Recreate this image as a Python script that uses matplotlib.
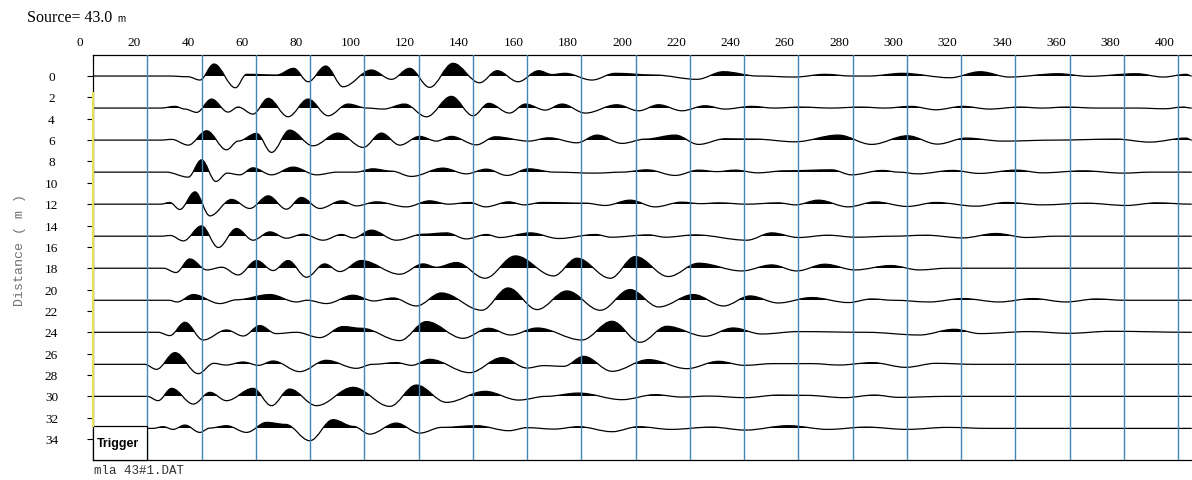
import matplotlib
matplotlib.use("Agg")
import matplotlib.pyplot as plt
import matplotlib.transforms as mtransforms
from matplotlib.path import Path
from matplotlib.patches import PathPatch, Rectangle

# geophone offsets along the line (m), one wiggle trace each
distances = [0, 3, 6, 9, 12, 15, 18, 21, 24, 27, 30, 33]

# extrema of each trace: time (ms), amplitude (screen px, + = up)
t_01 = [5, 33, 40, 44.4, 49.6, 57.5, 61.6, 72.6, 79.0, 84.3, 90.8, 97.2, 107.6, 115, 121.7, 129.1, 137.7, 147.5,
        154, 161.7, 169.3, 174.2, 179, 188.9, 197.5, 212, 227.6, 237.4, 250, 263.8, 274.8, 284.6, 291, 303.4,
        321, 332, 342.8, 360.7, 372, 389.6, 399.5, 408, 410]
a_01 = [0, 0, -0.7, -4, 12, -11.7, 1.7, 1, 7.7, -5.7, 10, -10.7, 6, -3.3, 7.7, -11.3, 12.7, -6.7,
        5.3, -5.7, 5.3, 1.5, 2.7, -4, 2.7, 1, -3.3, 4.3, 0, -1, 1.7, 0, 0, 2.7,
        -1.7, 4.3, -1, 2.3, -0.3, 2.3, -1, 1.7, 0]
t_02 = [5, 30, 35.2, 38.9, 43.2, 48.7, 54.8, 58.5, 64, 69.6, 76.9, 84.3, 91.7, 99, 106, 112, 119.9, 127.9,
        137.1, 145.1, 150.9, 158.5, 164.4, 171.7, 177.9, 186.5, 198.1, 206.1, 213.5, 222.1, 230.6, 238,
        247.8, 256, 266, 277, 288, 297, 306.5, 315.7, 325.6, 335.4, 346.5, 355, 363.7, 375, 390, 400, 406.8, 410]
a_02 = [0, 0, 1.7, -1, -4.3, 9, -4, 1, -6, 9.7, -8.7, 9, -7.7, 4, 0, -1, 4, -8.7,
        11.7, -7.7, 4.7, -5, 4, -2, 4, -5, 3.3, -2.7, 3.3, -2.7, 2.3, -1,
        1.7, 0, 1, 0, 1, 0, 1.7, -1.7, 1.7, -1, 1, 0, 1, 0, 0, -0.7, 1, 0]
t_03 = [5, 30, 34, 40.1, 46.9, 54.2, 58.5, 65.3, 70.8, 77.5, 86.1, 95.3, 104.6, 111.3, 118.1, 125.4, 131.6,
        137.1, 146.3, 153.3, 165.6, 173, 183.4, 190.8, 200, 208.6, 219.6, 228.2, 238, 249, 263.8, 279.7,
        292, 305.2, 316.3, 326.8, 340.3, 360, 382, 394.5, 408, 410]
a_03 = [0, 0, 0.7, -5, 9.3, -9.7, -1, 6.7, -12.3, 10, -5.7, 7, -7.3, 7, -5, 3.7, -1,
        3.7, -4.7, 3.3, -1, 2.3, -2.7, 5, -3.3, 1, 5, -4.3, 1.3, 1, -1.7, 5,
        -4.3, 4.3, -4, 2, -1, 0, 1, -2, 2, 0]
t_04 = [5, 32, 40.1, 45, 50.3, 54.5, 59.1, 64, 70.8, 78.8, 87.4, 95, 102, 108.2, 115, 122.4, 134, 142.6,
        150, 157.6, 165.6, 175, 190, 200, 209.2, 219.6, 228.2, 235, 241.7, 250, 260, 277.3, 284.6, 296,
        302, 309, 321.9, 331.7, 345.3, 355, 370, 384.7, 395, 410]
a_04 = [0, 0, -5, 12.3, -9.3, -1, -2.7, 4.3, -2.7, 5, -2.7, 0, 0, 3.3, 1, -4.3, 4, -1.7,
        3, -3.3, 3.3, 0, -1, 0, 2.3, -3.3, 2, 0.5, 2, -0.7, 1.3, 2.3, -2.7, 1.7,
        0, -1.7, 1.7, -1.3, 2, -0.7, 1.3, -1, 0, 0]
t_05 = [5, 30, 33.3, 37, 42.6, 48.1, 56.1, 62.8, 69.6, 76.3, 81.8, 88.6, 96.6, 102.1, 109.5, 120.5, 129.1,
        136, 143.8, 149.7, 158.3, 164, 170.5, 186.5, 193.8, 203, 212.2, 222, 229, 235.6, 246, 257.6, 264,
        272.4, 283.4, 293.3, 305.2, 315.7, 330.5, 341.6, 355, 371, 385.9, 397, 410]
a_05 = [0, 0, 1.7, -5.3, 12.3, -11.7, 4.7, -4.3, 8.3, -5, 6.7, -4.3, 3.3, -1.7, 2.3, -2.7, 3.3,
        0, 1.7, -2.7, 2.3, -0.7, 1.7, 1, -1.3, 4, -2.7, 2, 0.5, 1.3, 0, 1.3, -0.7,
        4, -2.7, 2.3, -2.3, 1.7, -2, 1.7, -0.7, 1, -1.3, 1.3, 0]
t_06 = [5, 30, 33.5, 38.3, 45, 51.2, 57.9, 64, 70.2, 76.3, 82.5, 89.8, 96.6, 101, 107.6, 116.8, 126.7,
        135.3, 142.6, 150, 155, 166.2, 176.7, 190.2, 196, 209.8, 216, 227, 246, 255.2, 265, 276, 285.9,
        300, 312, 325.6, 337.9, 349, 360, 410]
a_06 = [0, 0, 0.7, -4.7, 10.3, -11.3, 7.7, -4, 4.3, -2, 2, -4, 1.7, -1.7, 6, -4, 2,
        3.3, -2.7, 1.7, -1.3, 3.3, -2.3, 1.7, -1, 1.3, -1, 1.3, -4, 3.3, -1.3, 1, -1,
        0, 1, -1.7, 2.7, -1.3, 0, 0]
t_07 = [5, 31, 35.6, 40.7, 47, 52.5, 58.5, 65.3, 71.4, 76.9, 83.7, 90.4, 96, 103.9, 118.1, 126.7, 131.6,
        139, 149.5, 160.7, 174.8, 183.4, 195.7, 204.9, 217.1, 228.2, 244.1, 255.2, 264.4, 274.8, 285.9,
        299, 309.6, 320, 410]
a_07 = [0, 0, -4.3, 9.3, -1.7, 1, -6.7, 7.7, -2.3, 7.7, -9, 4.3, -3.3, 7.7, -6, 4.3, 1,
        5.7, -10, 12.3, -7.7, 10, -10, 11.7, -8.3, 5, -2.7, 3.3, -2.7, 4, -1.7,
        2.7, -1.7, 0, 0]
t_08 = [5, 33, 36, 42, 51.8, 58, 70.2, 80, 84, 91, 100.9, 108.5, 115.6, 124.2, 133.4, 148.3, 158, 168.7,
        179.7, 192, 203, 213.5, 226.3, 237.4, 247.2, 257.6, 269.9, 283.4, 292, 300, 313.3, 325.6, 339,
        351.4, 363.7, 374.8, 385, 410]
a_08 = [0, 0, -1.7, 5.7, -3.3, 0.5, 5.7, -1.7, 0, -3.3, 5, -0.7, 2.3, -5.7, 7.3, -10, 12.3, -9.3,
        9.3, -10, 10.7, -6.7, 5.7, -5.7, 4.3, -2.7, 2.7, -2.3, 1.3, 0, -1.7, 1.7, -1.7,
        1.7, -1.7, 1.3, 0, 0]
t_09 = [5, 29, 33.3, 38.9, 45.6, 54.2, 60.4, 66.5, 72.5, 80, 88.6, 97.2, 104, 118.1, 127.9, 141.4, 150.9,
        158.9, 168.7, 185.2, 196.3, 206.7, 216.5, 230.6, 241, 251.5, 265, 290, 309.6, 322.5, 332, 350,
        365, 380, 410]
a_09 = [0, 0, -3.3, 10, -7.7, 2.3, -3.7, 6.7, -1.3, 0, -5.3, 5.7, 4, -8.3, 10.7, -6, 4,
        -2.7, 4.3, -7.7, 11, -10, 6, -4, 4.3, -1.7, 0.7, 0, -2.7, 3, -1.3, 0.7,
        -1, 1, 0]
t_10 = [5, 24, 28.4, 35.2, 43.8, 49.5, 54, 60.4, 66, 71.4, 81.2, 91, 102.1, 108, 116.8, 122.5, 129.1,
        143.8, 155.8, 165, 171, 178.5, 185.9, 196.3, 209.8, 223.9, 235.6, 245, 256, 270, 280, 292.3,
        304.6, 315.7, 330, 410]
a_10 = [0, 0, -5, 11.7, -9.3, 1, -0.7, 2.3, -1, 3.3, -7.3, 4, -4, 0, 1.7, -1, 5,
        -8.3, 6.7, -3.7, -1.3, -2, 8, -7, 4.7, -4.3, 3, -1, 0.7, 0.7, -0.7, 1.7,
        -3, 1, 0, 0]
t_11 = [5, 25, 29, 34, 42, 48.1, 54.2, 64, 70.8, 77.5, 87.4, 100.9, 114.4, 124.2, 135.3, 149.5, 161.9,
        172, 184, 200, 212.2, 222, 232, 245.4, 257.6, 268, 282, 293, 302, 320, 410]
a_11 = [0, 0, -4.3, 8, -7.7, 4, -4.3, 8, -9.3, 7.3, -9.3, 9, -10, 11.3, -6, 5, -3.7,
        0, 3.3, -3.3, 1.7, -0.7, 0.3, -1.3, 1.3, 1, -1.3, 1.3, -1, 0, 0]
t_12 = [5, 27, 30.9, 34.5, 38.9, 44.4, 48, 54.2, 61.6, 69, 76, 84.9, 93.5, 101, 107, 116.8, 125.4,
        133.5, 146.3, 158.3, 165, 175, 184, 196.3, 206.1, 218, 233, 245.4, 261.3, 276, 290, 305,
        320, 335, 410]
a_12 = [0, 0, 1.7, -1, 3.3, -4, 0.3, 2.7, -4, 6, 4, -12.3, 8.7, 2, -5.7, 5.3, -4.7,
        1, 2.7, -2.3, 0.7, -0.7, 1.7, -3.3, 1.7, -1, 1.3, -1.7, 2.7, -1, 1.3, -1,
        1, 0, 0]

trace_times = [t_01, t_02, t_03, t_04, t_05, t_06, t_07, t_08, t_09, t_10, t_11, t_12]
trace_amps = [a_01, a_02, a_03, a_04, a_05, a_06, a_07, a_08, a_09, a_10, a_11, a_12]

time_labels = list(range(0, 401, 20))
grid_times = list(range(25, 406, 20))
dist_labels = list(range(0, 35, 2))

T_MIN, T_MAX = 5.0, 410.1
D_TOP, D_BOT = -1.97, 35.96
GAIN = 1 / 10.68          # screen px of amplitude -> metres on the distance axis
GRID_COLOR = "#3f86b4"
SERIF = "Liberation Serif"
MONO = "Liberation Mono"


def wiggle_path(times, amps, base):
    # smooth path through the picked extrema, flat tangent at each one
    verts = [(times[0], base - amps[0] * GAIN)]
    codes = [Path.MOVETO]
    for i in range(1, len(times)):
        t0, t1 = times[i - 1], times[i]
        y0, y1 = base - amps[i - 1] * GAIN, base - amps[i] * GAIN
        dt = t1 - t0
        verts += [(t0 + 0.36 * dt, y0), (t1 - 0.36 * dt, y1), (t1, y1)]
        codes += [Path.CURVE4] * 3
    return verts, codes


fig = plt.figure(figsize=(11.92, 4.8), dpi=100)
ax = fig.add_axes([93 / 1192, 20 / 480, (1192 - 93) / 1192, 405 / 480])
ax.set_xlim(T_MIN, T_MAX)
ax.set_ylim(D_BOT, D_TOP)

for base, times, amps in zip(distances, trace_times, trace_amps):
    assert len(times) == len(amps)
    verts, codes = wiggle_path(times, amps, base)
    # variable-area fill: positive lobes only
    fill_verts = verts + [(times[-1], base), (times[0], base), (times[0], base)]
    fill_codes = codes + [Path.LINETO, Path.LINETO, Path.CLOSEPOLY]
    fill = PathPatch(Path(fill_verts, fill_codes), facecolor="black", edgecolor="none", zorder=2)
    ax.add_patch(fill)
    clip = Rectangle((T_MIN, base - 4), T_MAX - T_MIN, 4, transform=ax.transData)
    fill.set_clip_path(clip)
    ax.add_patch(PathPatch(Path(verts, codes), facecolor="none", edgecolor="black",
                           lw=0.9, zorder=2.5))

for g in grid_times:
    ax.axvline(g, color=GRID_COLOR, lw=1.0, zorder=3)

# trigger box over the start of the last trace
ax.add_patch(Rectangle((T_MIN, 32.8), 25 - T_MIN, D_BOT - 32.8, facecolor="white",
                       edgecolor="black", lw=0.9, zorder=4, clip_on=False))
ax.text(T_MIN + 1.3, 34.45, "Trigger", fontsize=9, fontweight="bold", family="Liberation Sans",
        va="center", ha="left", zorder=5)

for side in ["top", "left", "bottom"]:
    ax.spines[side].set_color("black")
    ax.spines[side].set_linewidth(0.9)
ax.spines["right"].set_visible(False)
ax.plot([T_MIN, T_MIN], [1.6, 32.8], color="#e8df5a", lw=1.6, zorder=6, clip_on=False)

ax.set_xticks([])
ax.set_yticks(dist_labels)
ax.tick_params(axis="y", length=4, width=0.8, labelleft=False, direction="out")

# time labels sit above the frame, the first one left of it
top_trans = mtransforms.blended_transform_factory(ax.transData, fig.transFigure)
for t in time_labels:
    ax.text(t, 1 - 46.5 / 480, str(t), transform=top_trans, ha="center", va="baseline",
            fontsize=9.5, family=SERIF, clip_on=False)

left_trans = mtransforms.offset_copy(
    mtransforms.blended_transform_factory(fig.transFigure, ax.transData), fig, y=-3.6, units="points")
for d in dist_labels:
    ax.text(51.5 / 1192, d, str(d), transform=left_trans, ha="center", va="baseline",
            fontsize=9.5, family=SERIF, clip_on=False)

fig.text(20 / 1192, 1 - 250 / 480, "Distance ( m )", rotation=90, ha="center", va="center",
         fontsize=9.5, family=MONO, color="#707070")
fig.text(27 / 1192, 1 - 21.5 / 480, "Source= 43.0", fontsize=11.5, family=SERIF, va="baseline")
fig.text(117 / 1192, 1 - 21.5 / 480, "m", fontsize=7, family="Liberation Sans", va="baseline")
fig.text(94 / 1192, 1 - 474 / 480, "mla 43#1.DAT", fontsize=9, family=MONO, color="#333333",
         va="baseline")

fig.savefig("out.png", dpi=100)
